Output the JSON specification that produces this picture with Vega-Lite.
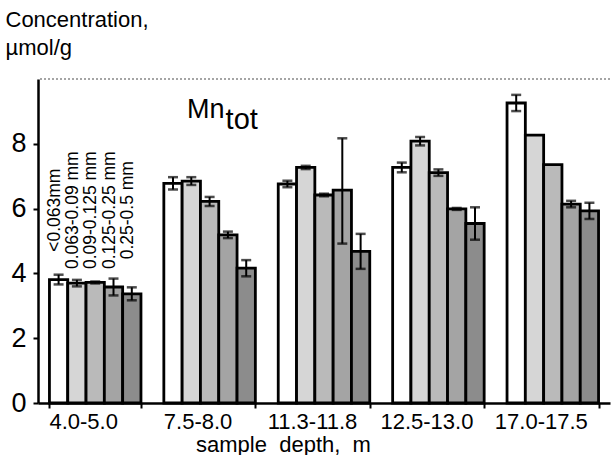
{
  "$schema": "https://vega.github.io/schema/vega-lite/v6.json",
  "width": 572,
  "height": 324,
  "padding": {"left": 5, "top": 8, "right": 0, "bottom": 0},
  "config": {"view": {"stroke": null}, "font": "Liberation Sans", "axis": {"grid": false}},
  "data": {"values": [
    {"depth": "4.0-5.0", "size": "<0.063mm", "value": 3.81, "lo": 3.66, "hi": 3.96},
    {"depth": "4.0-5.0", "size": "0.063-0.09 mm", "value": 3.70, "lo": 3.60, "hi": 3.80},
    {"depth": "4.0-5.0", "size": "0.09-0.125 mm", "value": 3.72, "lo": 3.69, "hi": 3.75},
    {"depth": "4.0-5.0", "size": "0.125-0.25 mm", "value": 3.58, "lo": 3.32, "hi": 3.84},
    {"depth": "4.0-5.0", "size": "0.25-0.5 mm", "value": 3.37, "lo": 3.17, "hi": 3.57},
    {"depth": "7.5-8.0", "size": "<0.063mm", "value": 6.78, "lo": 6.59, "hi": 6.97},
    {"depth": "7.5-8.0", "size": "0.063-0.09 mm", "value": 6.85, "lo": 6.73, "hi": 6.97},
    {"depth": "7.5-8.0", "size": "0.09-0.125 mm", "value": 6.22, "lo": 6.08, "hi": 6.36},
    {"depth": "7.5-8.0", "size": "0.125-0.25 mm", "value": 5.19, "lo": 5.09, "hi": 5.29},
    {"depth": "7.5-8.0", "size": "0.25-0.5 mm", "value": 4.16, "lo": 3.91, "hi": 4.41},
    {"depth": "11.3-11.8", "size": "<0.063mm", "value": 6.76, "lo": 6.66, "hi": 6.86},
    {"depth": "11.3-11.8", "size": "0.063-0.09 mm", "value": 7.27, "lo": 7.22, "hi": 7.32},
    {"depth": "11.3-11.8", "size": "0.09-0.125 mm", "value": 6.42, "lo": 6.38, "hi": 6.46},
    {"depth": "11.3-11.8", "size": "0.125-0.25 mm", "value": 6.57, "lo": 4.92, "hi": 8.17},
    {"depth": "11.3-11.8", "size": "0.25-0.5 mm", "value": 4.68, "lo": 4.14, "hi": 5.22},
    {"depth": "12.5-13.0", "size": "<0.063mm", "value": 7.27, "lo": 7.12, "hi": 7.42},
    {"depth": "12.5-13.0", "size": "0.063-0.09 mm", "value": 8.08, "lo": 7.95, "hi": 8.21},
    {"depth": "12.5-13.0", "size": "0.09-0.125 mm", "value": 7.11, "lo": 7.01, "hi": 7.21},
    {"depth": "12.5-13.0", "size": "0.125-0.25 mm", "value": 5.99, "lo": 5.96, "hi": 6.02},
    {"depth": "12.5-13.0", "size": "0.25-0.5 mm", "value": 5.54, "lo": 5.04, "hi": 6.04},
    {"depth": "17.0-17.5", "size": "<0.063mm", "value": 9.26, "lo": 9.01, "hi": 9.51},
    {"depth": "17.0-17.5", "size": "0.063-0.09 mm", "value": 8.27, "lo": null, "hi": null},
    {"depth": "17.0-17.5", "size": "0.09-0.125 mm", "value": 7.36, "lo": null, "hi": null},
    {"depth": "17.0-17.5", "size": "0.125-0.25 mm", "value": 6.14, "lo": 6.04, "hi": 6.24},
    {"depth": "17.0-17.5", "size": "0.25-0.5 mm", "value": 5.93, "lo": 5.68, "hi": 6.18}
  ]},
  "layer": [
    {
      "data": {"values": [{}]},
      "mark": {"type": "rule", "color": "#888888", "strokeWidth": 1.5, "strokeDash": [2, 2]},
      "encoding": {"y": {"datum": 10, "scale": {"domain": [0, 10], "nice": false}}}
    },
    {
      "mark": {"type": "bar", "stroke": "black", "strokeWidth": 2.8},
      "encoding": {
        "x": {"field": "depth", "type": "nominal",
          "sort": ["4.0-5.0", "7.5-8.0", "11.3-11.8", "12.5-13.0", "17.0-17.5"],
          "scale": {"paddingInner": 0.2, "paddingOuter": 0.1},
          "axis": {"title": "sample\u00a0 depth,\u00a0 m", "tickBand": "extent", "labelAngle": 0,
            "labelFontSize": 22, "labelColor": "black", "labelPadding": 3, "labelOffset": -12,
            "tickSize": 5, "tickWidth": 2, "tickColor": "black", "domainColor": "black", "domainWidth": 2.5,
            "titleFontSize": 22, "titleFontWeight": "normal", "titleColor": "black",
            "titleX": 245, "titleY": 31, "titleBaseline": "top", "titleAlign": "center"}},
        "xOffset": {"field": "size", "type": "nominal",
          "sort": ["<0.063mm", "0.063-0.09 mm", "0.09-0.125 mm", "0.125-0.25 mm", "0.25-0.5 mm"],
          "scale": {"paddingInner": 0, "paddingOuter": 0}},
        "y": {"field": "value", "type": "quantitative",
          "scale": {"domain": [0, 10], "nice": false},
          "axis": {"values": [0, 2, 4, 6, 8], "title": ["Concentration,", "µmol/g"],
            "titleAngle": 0, "titleAlign": "left", "titleBaseline": "top", "titleX": -33, "titleY": -70,
            "titleFontSize": 22, "titleFontWeight": "normal", "titleLineHeight": 28, "titleColor": "black",
            "labelFontSize": 27, "labelPadding": 7, "labelColor": "black",
            "tickSize": 5, "tickWidth": 2, "tickColor": "black", "domainColor": "black", "domainWidth": 2.5}},
        "fill": {"field": "size", "type": "nominal", "legend": null,
          "scale": {"domain": ["<0.063mm", "0.063-0.09 mm", "0.09-0.125 mm", "0.125-0.25 mm", "0.25-0.5 mm"],
            "range": ["#ffffff", "#d6d6d6", "#bababa", "#a4a4a4", "#8c8c8c"]}}
      }
    },
    {
      "transform": [{"filter": "datum.lo != null"}],
      "mark": {"type": "rule", "color": "black", "strokeWidth": 2},
      "encoding": {
        "x": {"field": "depth", "type": "nominal", "sort": ["4.0-5.0", "7.5-8.0", "11.3-11.8", "12.5-13.0", "17.0-17.5"]},
        "xOffset": {"field": "size", "type": "nominal", "sort": ["<0.063mm", "0.063-0.09 mm", "0.09-0.125 mm", "0.125-0.25 mm", "0.25-0.5 mm"]},
        "y": {"field": "lo", "type": "quantitative"},
        "y2": {"field": "hi"}
      }
    },
    {
      "transform": [{"filter": "datum.lo != null"}],
      "mark": {"type": "tick", "color": "black", "size": 10, "thickness": 2.5},
      "encoding": {
        "x": {"field": "depth", "type": "nominal", "sort": ["4.0-5.0", "7.5-8.0", "11.3-11.8", "12.5-13.0", "17.0-17.5"]},
        "xOffset": {"field": "size", "type": "nominal", "sort": ["<0.063mm", "0.063-0.09 mm", "0.09-0.125 mm", "0.125-0.25 mm", "0.25-0.5 mm"]},
        "y": {"field": "lo", "type": "quantitative"}
      }
    },
    {
      "transform": [{"filter": "datum.hi != null"}],
      "mark": {"type": "tick", "color": "black", "size": 10, "thickness": 2.5},
      "encoding": {
        "x": {"field": "depth", "type": "nominal", "sort": ["4.0-5.0", "7.5-8.0", "11.3-11.8", "12.5-13.0", "17.0-17.5"]},
        "xOffset": {"field": "size", "type": "nominal", "sort": ["<0.063mm", "0.063-0.09 mm", "0.09-0.125 mm", "0.125-0.25 mm", "0.25-0.5 mm"]},
        "y": {"field": "hi", "type": "quantitative"}
      }
    },
    {
      "transform": [{"filter": "datum.depth == '4.0-5.0'"}],
      "mark": {"type": "text", "angle": 270, "align": "center", "baseline": "middle", "fontSize": 17.5, "dy": -4, "color": "black"},
      "encoding": {
        "x": {"field": "depth", "type": "nominal", "sort": ["4.0-5.0", "7.5-8.0", "11.3-11.8", "12.5-13.0", "17.0-17.5"]},
        "xOffset": {"field": "size", "type": "nominal", "sort": ["<0.063mm", "0.063-0.09 mm", "0.09-0.125 mm", "0.125-0.25 mm", "0.25-0.5 mm"]},
        "y": {"datum": 5.95},
        "text": {"field": "size"}
      }
    },
    {
      "data": {"values": [{"label": "Mn"}]},
      "mark": {"type": "text", "align": "right", "baseline": "alphabetic", "fontSize": 27, "dx": 15, "color": "black"},
      "encoding": {
        "x": {"datum": "7.5-8.0"},
        "y": {"datum": 8.8},
        "text": {"field": "label"}
      }
    },
    {
      "data": {"values": [{"label": "tot"}]},
      "mark": {"type": "text", "align": "left", "baseline": "alphabetic", "fontSize": 29, "dx": 16, "dy": 11, "color": "black"},
      "encoding": {
        "x": {"datum": "7.5-8.0"},
        "y": {"datum": 8.8},
        "text": {"field": "label"}
      }
    }
  ]
}
